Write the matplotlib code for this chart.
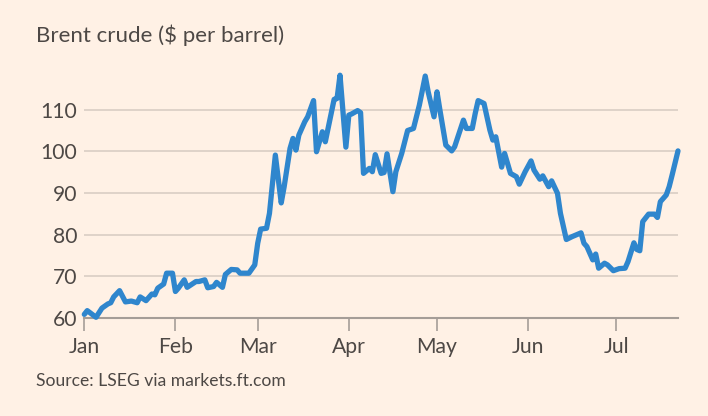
import matplotlib
matplotlib.use("Agg")
import matplotlib.pyplot as plt
import matplotlib.dates as mdates
import pandas as pd

# Brent crude, $ per barrel
dates = [
    "01-01", "01-02", "01-05", "01-07", "01-09", "01-10", "01-11", "01-13", "01-15", "01-17",
    "01-19", "01-20", "01-22", "01-24", "01-25", "01-26", "01-28", "01-29", "01-31", "02-01",
    "02-02", "02-04", "02-05", "02-08", "02-09", "02-11", "02-12", "02-14", "02-15", "02-17",
    "02-18", "02-20", "02-22", "02-23", "02-25", "02-26", "02-28", "03-01", "03-02", "03-04",
    "03-05", "03-07", "03-09", "03-10", "03-12", "03-13", "03-14", "03-15", "03-17", "03-18",
    "03-20", "03-21", "03-23", "03-24", "03-26", "03-27", "03-28", "03-29", "03-31", "04-01",
    "04-02", "04-04", "04-05", "04-06", "04-08", "04-09", "04-10", "04-12", "04-13", "04-14",
    "04-16", "04-17", "04-19", "04-21", "04-23", "04-25", "04-27", "04-28", "04-30", "05-01",
    "05-02", "05-04", "05-06", "05-07", "05-10", "05-11", "05-13", "05-14", "05-15", "05-17",
    "05-19", "05-20", "05-21", "05-23", "05-24", "05-26", "05-28", "05-29", "05-31", "06-02",
    "06-03", "06-05", "06-06", "06-08", "06-09", "06-11", "06-12", "06-14", "06-16", "06-19",
    "06-20", "06-21", "06-23", "06-24", "06-25", "06-27", "06-28", "06-30", "07-02", "07-04",
    "07-05", "07-07", "07-08", "07-09", "07-10", "07-12", "07-14", "07-15", "07-16", "07-18",
    "07-19", "07-20", "07-22",
]
prices = [
    60.8, 61.7, 60.1, 62.3, 63.3, 63.6, 65.0, 66.5, 63.8, 64.0,
    63.6, 65.0, 64.1, 65.7, 65.5, 67.1, 68.1, 70.7, 70.7, 66.3,
    67.1, 69.1, 67.3, 68.7, 68.7, 69.1, 67.2, 67.5, 68.5, 67.3,
    70.4, 71.6, 71.5, 70.7, 70.7, 70.7, 72.7, 77.9, 81.3, 81.5,
    85.1, 99.1, 87.6, 91.5, 100.7, 103.1, 100.3, 103.9, 107.1, 108.3,
    112.2, 99.9, 104.7, 102.3, 109.1, 112.5, 112.7, 118.3, 101.0, 108.7,
    109.0, 109.8, 109.3, 94.7, 95.9, 95.1, 99.2, 94.7, 94.9, 99.4,
    90.3, 95.1, 99.5, 105.0, 105.5, 111.1, 118.1, 114.3, 108.3, 114.3,
    109.9, 101.5, 100.1, 101.1, 107.5, 105.5, 105.5, 109.1, 112.2, 111.5,
    105.1, 102.7, 103.5, 96.2, 99.5, 94.7, 93.9, 92.1, 95.1, 97.7,
    95.5, 93.3, 94.1, 91.5, 92.9, 89.9, 85.1, 78.8, 79.5, 80.4,
    77.9, 77.1, 73.9, 75.3, 71.9, 73.1, 72.7, 71.3, 71.8, 71.9,
    73.5, 78.0, 76.4, 76.1, 83.1, 84.9, 84.9, 84.1, 87.9, 89.5,
    91.5, 94.3, 100.1,
]
yticks = [60, 70, 80, 90, 100, 110]

title = "Brent crude ($ per barrel)"
source = "Source: LSEG via markets.ft.com"

bg = "#fff1e5"
text_col = "#4d4845"
grid_col = "#dcd0c6"
axis_col = "#a59d97"
line_col = "#2f86cd"

plt.rcParams["font.family"] = ["Lato", "DejaVu Sans"]

x = pd.to_datetime(["2026-" + d for d in dates])

fig = plt.figure(figsize=(7.08, 4.16), dpi=100, facecolor=bg)
ax = fig.add_axes([84.3 / 708, 98.3 / 416, (678 - 84.3) / 708, 245.4 / 416])
ax.set_facecolor(bg)

ax.plot(x, prices, color=line_col, lw=3.8, solid_joinstyle="round",
        solid_capstyle="round", clip_on=False, zorder=3)

ax.set_xlim(pd.Timestamp("2026-01-01"), pd.Timestamp("2026-07-22"))
ax.set_ylim(60, 119)
ax.set_yticks(yticks)
for v in yticks[1:]:
    ax.axhline(v, color=grid_col, lw=1.3, zorder=1)

ax.xaxis.set_major_locator(mdates.MonthLocator())
ax.xaxis.set_major_formatter(mdates.DateFormatter("%b"))

for s in ["top", "right", "left"]:
    ax.spines[s].set_visible(False)
ax.spines["bottom"].set_color(axis_col)
ax.spines["bottom"].set_linewidth(1.5)

ax.tick_params(axis="x", length=9.5, width=1.2, color=axis_col, pad=4.5,
               labelsize=15.2, labelcolor=text_col)
ax.tick_params(axis="y", length=0, pad=5, labelsize=15.2, labelcolor=text_col)

fig.text(36 / 708, 1 - 42 / 416, title, fontsize=16, color=text_col, va="baseline")
fig.text(36 / 708, 1 - 386 / 416, source, fontsize=12.6, color=text_col, va="baseline")

fig.savefig("out.png", dpi=100, facecolor=bg)
